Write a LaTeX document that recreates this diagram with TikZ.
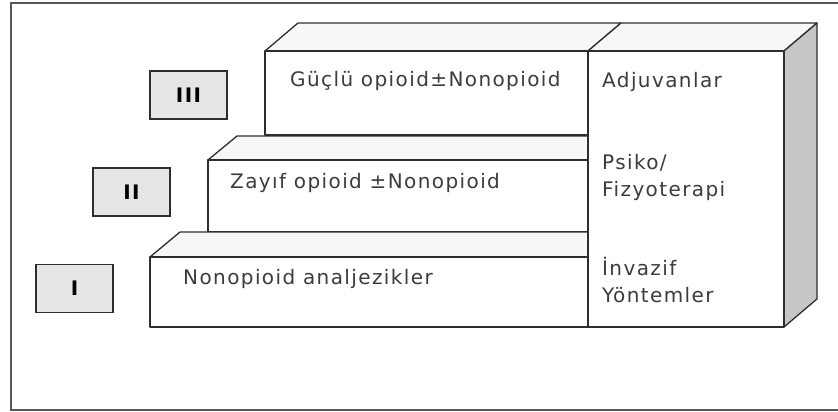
\documentclass[tikz,border=0pt]{standalone}
\usepackage{fontspec}
\setmainfont{DejaVu Sans}[LetterSpace=7]
\usepackage{xcolor}
\usepackage{tikz}
\definecolor{edge}{HTML}{2E2E2E}
\definecolor{txt}{HTML}{3C3C3C}
\definecolor{topgray}{HTML}{F7F7F7}
\definecolor{sidegray}{HTML}{C6C6C6}
\definecolor{boxgray}{HTML}{E6E6E6}

\begin{document}
\begin{tikzpicture}[x=1pt, y=-1pt, every node/.style={font=\fontsize{20}{27}\selectfont, text=txt}, face/.style={draw=edge, line width=1.3pt, line join=round, fill=white}, topface/.style={face, fill=topgray}, sideface/.style={face, fill=sidegray}, numbox/.style={draw=edge, line width=1.3pt, fill=boxgray, minimum width=77pt, minimum height=48pt, inner sep=0pt, text=black, font=\bfseries\fontsize{20}{24}\selectfont}, lbl/.style={anchor=base west, inner sep=0pt, align=left}]
\useasboundingbox (0,0) rectangle (838,412);
\draw[edge!80, line width=1.2pt] (838,3) -- (11,3) -- (11,410) -- (838,410);
% step III
\draw[topface] (265,51) -- (298,23) -- (621,23) -- (588,51) -- cycle;
\draw[face] (265,51) rectangle (588,135);
% step II
\draw[topface] (208,160) -- (237,136) -- (617,136) -- (588,160) -- cycle;
\draw[face] (208,160) rectangle (588,232);
% step I
\draw[topface] (150,257) -- (180,232) -- (618,232) -- (588,257) -- cycle;
\draw[face] (150,257) rectangle (588,327);
% column on the right
\draw[topface] (588,51) -- (621,23) -- (817,23) -- (784,51) -- cycle;
\draw[sideface] (784,51) -- (817,23) -- (817,299) -- (784,327) -- cycle;
\draw[face] (588,51) rectangle (784,327);
\node[numbox] (lvlIII) at (188.5,95) {III};
\node[numbox] (lvlII) at (131.5,192) {II};
\node[numbox] (lvlI) at (74.5,288.5) {I};
\node[lbl] (strong) at (290,87) {Güçlü opioid±Nonopioid};
\node[lbl] (weak) at (230,188) {Zayıf opioid ±Nonopioid};
\node[lbl] (nonop) at (183,284) {Nonopioid analjezikler};
\node[lbl] (adjuv) at (602,88) {Adjuvanlar};
\node[lbl] (psycho) at (602,196) {Psiko/\\Fizyoterapi};
\node[lbl] (invas) at (602,302) {İnvazif\\Yöntemler};
\end{tikzpicture}
\end{document}
